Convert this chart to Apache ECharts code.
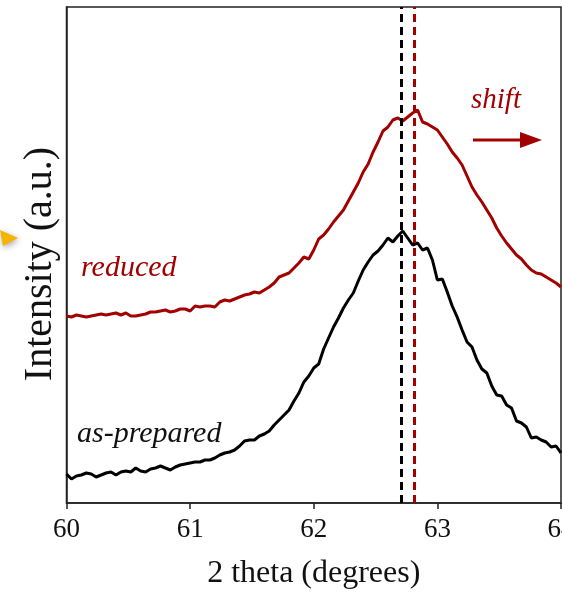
<!DOCTYPE html>
<html>
<head>
<meta charset="utf-8">
<script src="https://cdn.jsdelivr.net/npm/echarts@6/dist/echarts.min.js"></script>
<style>
  html, body { margin: 0; padding: 0; background: #fff; }
  #chart { width: 562px; height: 592px; }
</style>
</head>
<body>
<div id="chart"></div>
<script>
// XRD scan around 62-63 degrees, 2-theta sampled every 0.04 degrees
const thetaStart = 60;
const thetaStep = 0.04;

// as-prepared sample (a.u.)
const asPrepared = [
  29, 24, 27, 28, 30, 29, 26, 28, 30, 31, 28, 31, 32, 31, 35, 32, 31, 34, 35, 37, 35, 33, 36, 38, 39, 40,
  41, 41, 43, 43, 45, 48, 50, 51, 53, 57, 62, 63, 63, 67, 69, 72, 78, 83, 88, 93, 102, 110, 121, 127, 135,
  139, 154, 165, 176, 185, 195, 203, 210, 222, 233, 241, 248, 252, 258, 265, 261, 267, 272, 265, 258, 260, 253, 255, 243, 223,
  224, 211, 197, 186, 173, 161, 156, 143, 134, 130, 117, 108, 107, 98, 95, 82, 80, 76, 65, 66, 63, 61, 56, 57, 50
];

// reduced sample (a.u., vertically offset)
const reduced = [
  187, 186, 188, 187, 186, 187, 188, 189, 188, 189, 190, 188, 190, 187, 187, 188, 189, 191, 191, 192, 193, 191, 192, 194, 194, 192,
  197, 196, 197, 197, 196, 201, 203, 202, 204, 206, 208, 209, 211, 210, 213, 216, 220, 226, 228, 230, 235, 240, 246, 244, 253,
  264, 268, 274, 281, 287, 293, 302, 311, 320, 331, 339, 351, 361, 372, 376, 383, 385, 382, 386, 390, 393, 381, 379, 376, 373,
  366, 359, 351, 345, 338, 327, 316, 308, 301, 293, 285, 275, 267, 260, 254, 248, 244, 238, 233, 230, 229, 226, 223, 220, 216
];

// peak positions (degrees)
const peakAsPrepared = 62.71;
const peakReduced = 62.81;

const xTicks = [60, 61, 62, 63, 64];

const red = '#A30000';
const serif = '"Liberation Serif", "Times New Roman", serif';

const theta = asPrepared.map((_, i) => +(thetaStart + i * thetaStep).toFixed(2));
const pairs = arr => arr.map((v, i) => [theta[i], v]);

const chart = echarts.init(document.getElementById('chart'), null, { renderer: 'canvas' });

chart.setOption({
  animation: false,
  backgroundColor: '#fff',
  grid: {
    left: 66.5, right: 1, top: 7, bottom: 89,
    containLabel: false, outerBoundsMode: 'none',
    show: true, borderColor: '#222', borderWidth: 1.5
  },
  xAxis: {
    type: 'value',
    min: xTicks[0], max: xTicks[xTicks.length - 1], interval: 1,
    name: '2 theta (degrees)',
    nameLocation: 'middle', nameGap: 55,
    nameTextStyle: { fontFamily: serif, fontSize: 32, color: '#111' },
    axisLine: { show: true, lineStyle: { color: '#222', width: 1.5 } },
    axisTick: { show: true, inside: false, length: 6, lineStyle: { color: '#222', width: 1.5 } },
    axisLabel: { fontFamily: serif, fontSize: 27, color: '#111', margin: 13, showMaxLabel: true },
    splitLine: { show: false }
  },
  yAxis: {
    type: 'value', min: 0, max: 496,
    axisLine: { show: true, lineStyle: { color: '#222', width: 1.5 } },
    axisTick: { show: false },
    axisLabel: { show: false },
    splitLine: { show: false }
  },
  series: [
    {
      name: 'as-prepared', type: 'line', data: pairs(asPrepared),
      symbol: 'none', lineStyle: { color: '#000', width: 3 }, z: 3,
      markLine: {
        silent: true, symbol: 'none', label: { show: false },
        lineStyle: { color: '#000', type: [8, 5], width: 3 },
        data: [{ xAxis: peakAsPrepared }]
      }
    },
    {
      name: 'reduced', type: 'line', data: pairs(reduced),
      symbol: 'none', lineStyle: { color: red, width: 3 }, z: 3,
      markLine: {
        silent: true, symbol: 'none', label: { show: false },
        lineStyle: { color: red, type: [8, 5], width: 3 },
        data: [{ xAxis: peakReduced }]
      }
    }
  ],
  graphic: [
    { type: 'text', x: 40, y: 264, rotation: Math.PI / 2,
      style: { text: 'Intensity (a.u.)', fill: '#111', font: '40px ' + serif, align: 'center', verticalAlign: 'middle' } },
    { type: 'text', x: 81, y: 268,
      style: { text: 'reduced', fill: red, font: 'italic 30px ' + serif, verticalAlign: 'middle' } },
    { type: 'text', x: 77, y: 434,
      style: { text: 'as-prepared', fill: '#111', font: 'italic 30px ' + serif, verticalAlign: 'middle' } },
    { type: 'text', x: 471, y: 100,
      style: { text: 'shift', fill: red, font: 'italic 29px ' + serif, verticalAlign: 'middle' } },
    { type: 'line', shape: { x1: 473, y1: 140, x2: 522, y2: 140 },
      style: { stroke: red, lineWidth: 3 } },
    { type: 'polygon', shape: { points: [[520, 132], [542, 140], [520, 148]] },
      style: { fill: red } },
    { type: 'polygon', shape: { points: [[0, 230], [18, 238], [3, 246]] },
      style: { fill: '#F5B400', shadowBlur: 6, shadowColor: 'rgba(0,0,0,0.35)', shadowOffsetX: 1, shadowOffsetY: 2 } }
  ]
});
</script>
</body>
</html>
